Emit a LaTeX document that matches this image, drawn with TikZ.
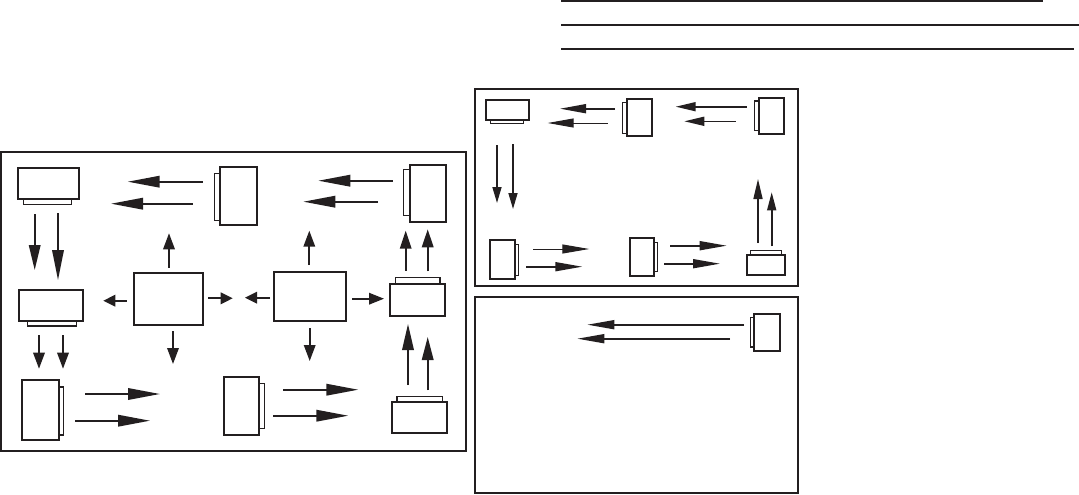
\documentclass[tikz,border=0pt]{standalone}
\usepackage{xcolor}
\definecolor{ink}{HTML}{231F20}
\usetikzlibrary{
  positioning,
  arrows.meta
}

\begin{document}
\begin{tikzpicture}[
  x=1pt,
  y=-1pt,
  node distance=0pt,
  panel/.style={
    draw=ink,
    line width=1.9pt,
    inner sep=0pt,
    outer sep=0pt
  },
  device/.style={
    draw=ink,
    line width=1.8pt,
    inner sep=0pt,
    outer sep=0pt
  },
  devtab/.style={
    draw=ink,
    line width=1.5pt,
    inner sep=0pt,
    outer sep=0pt
  },
  rulebar/.style={
    draw=ink,
    line width=1.8pt
  },
  arr/.style={
    -{Triangle[length=#1,width=11.5pt]},
    draw=ink,
    fill=ink,
    line width=1.8pt
  },
  narrowarr/.style={
    -{Triangle[length=#1,width=9pt]},
    draw=ink,
    fill=ink,
    line width=1.6pt
  },
  thinarr/.style={
    -{Triangle[length=#1,width=9pt]},
    draw=ink,
    fill=ink,
    line width=1pt
  }
]
\useasboundingbox (0,0) rectangle (1079,495);

% Rules at the top
\coordinate (ruleAs) at (561,1);
\coordinate (ruleAe) at (1043,1);
\coordinate (ruleBs) at (561,25);
\coordinate (ruleBe) at (1079,25);
\coordinate (ruleCs) at (561,48.7);
\coordinate (ruleCe) at (1074,48.7);
\draw[rulebar] (ruleAs) -- (ruleAe);
\draw[rulebar] (ruleBs) -- (ruleBe);
\draw[rulebar] (ruleCs) -- (ruleCe);

% Panels
\node[panel, minimum width=464.7pt, minimum height=298.7pt] (panelA) at (233.3,301.3) {};
\node[panel, minimum width=323.6pt, minimum height=196.7pt] (panelB) at (636.5,187.3) {};
\node[panel, minimum width=323.6pt, minimum height=196.6pt] (panelC) at (636.5,395) {};

% Panel A: devices
\node[device, minimum width=61.6pt, minimum height=31.6pt] (topleft) at (48.5,183.5) {};
\node[devtab, below=of topleft, xshift=-1pt, minimum width=47.6pt, minimum height=5pt] (topleftTab) {};
\node[device, minimum width=37.6pt, minimum height=58.6pt] (topmid) at (238.5,196) {};
\node[devtab, left=of topmid, yshift=-1.2pt, minimum width=5pt, minimum height=47pt] (topmidTab) {};
\node[device, minimum width=36.6pt, minimum height=57.3pt] (topright) at (428,193.3) {};
\node[devtab, left=of topright, yshift=1pt, minimum width=6pt, minimum height=46pt] (toprightTab) {};
\node[device, minimum width=64.6pt, minimum height=31.6pt] (midleft) at (51,305.5) {};
\node[devtab, below=of midleft, xshift=1pt, minimum width=48.6pt, minimum height=4.7pt] (midleftTab) {};
\node[device, minimum width=55pt, minimum height=32.3pt] (midright) at (417.8,299.8) {};
\node[devtab, above=of midright, minimum width=44.6pt, minimum height=6.4pt] (midrightTab) {};
\node[device, minimum width=37.6pt, minimum height=59.7pt] (botleft) at (40.5,410.2) {};
\node[devtab, right=of botleft, yshift=-0.9pt, minimum width=4pt, minimum height=48pt] (botleftTab) {};
\node[device, minimum width=35.6pt, minimum height=58.3pt] (botmid) at (241.5,405.8) {};
\node[devtab, right=of botmid, minimum width=5pt, minimum height=45pt] (botmidTab) {};
\node[device, minimum width=55pt, minimum height=31.6pt] (botright) at (419.8,417.5) {};
\node[devtab, above=of botright, minimum width=45.6pt, minimum height=5pt] (botrightTab) {};
\node[device, minimum width=69.6pt, minimum height=52.3pt] (hubL) at (168.5,298.8) {};
\node[device, minimum width=72.6pt, minimum height=49pt] (hubR) at (310,296.5) {};

% Panel A: paired arrows
\coordinate (a1s) at (202.7,181.7); \coordinate (a1e) at (127.7,181.7);
\coordinate (a2s) at (192.7,203.7); \coordinate (a2e) at (111,203.7);
\coordinate (a3s) at (392.7,180.7); \coordinate (a3e) at (318.3,180.7);
\coordinate (a4s) at (378,201.7);   \coordinate (a4e) at (303.3,201.7);
\coordinate (a5s) at (34.7,214);    \coordinate (a5e) at (34.7,270);
\coordinate (a6s) at (58,213);      \coordinate (a6e) at (58,280);
\coordinate (a7s) at (39,335);      \coordinate (a7e) at (39,368.7);
\coordinate (a8s) at (63,335);      \coordinate (a8e) at (63,368.7);
\coordinate (a9s) at (85,394);      \coordinate (a9e) at (160,394);
\coordinate (a10s) at (75,420.7);   \coordinate (a10e) at (150,420.7);
\coordinate (a11s) at (283,389.7);  \coordinate (a11e) at (358.3,389.7);
\coordinate (a12s) at (273,415.7);  \coordinate (a12e) at (348.3,415.7);
\coordinate (a13s) at (408,385);    \coordinate (a13e) at (408,324);
\coordinate (a14s) at (427.7,390);  \coordinate (a14e) at (427.7,337);
\coordinate (a15s) at (405.7,270.7); \coordinate (a15e) at (405.7,230.7);
\coordinate (a16s) at (427.7,271);  \coordinate (a16e) at (427.7,229.3);
\draw[arr=32pt] (a1s) -- (a1e);
\draw[arr=32pt] (a2s) -- (a2e);
\draw[arr=32pt] (a3s) -- (a3e);
\draw[arr=32pt] (a4s) -- (a4e);
\draw[arr=25pt] (a5s) -- (a5e);
\draw[arr=30pt] (a6s) -- (a6e);
\draw[arr=16pt] (a7s) -- (a7e);
\draw[arr=16pt] (a8s) -- (a8e);
\draw[arr=32pt] (a9s) -- (a9e);
\draw[arr=32pt] (a10s) -- (a10e);
\draw[arr=32pt] (a11s) -- (a11e);
\draw[arr=32pt] (a12s) -- (a12e);
\draw[arr=26pt] (a13s) -- (a13e);
\draw[arr=23pt] (a14s) -- (a14e);
\draw[arr=18pt] (a15s) -- (a15e);
\draw[arr=18pt] (a16s) -- (a16e);

% Panel A: arrows around the two hubs
\coordinate (h1s) at (169,267.7);   \coordinate (h1e) at (169,233.3);
\coordinate (h2s) at (126.7,300.7); \coordinate (h2e) at (103.3,300.7);
\coordinate (h3s) at (208,298.3);   \coordinate (h3e) at (232.7,298.3);
\coordinate (h4s) at (173,331);     \coordinate (h4e) at (173,364);
\coordinate (h5s) at (309.3,265);   \coordinate (h5e) at (309.3,230.7);
\coordinate (h6s) at (270,297.7);   \coordinate (h6e) at (245,297.7);
\coordinate (h7s) at (352,298.7);   \coordinate (h7e) at (384,298.7);
\coordinate (h8s) at (309.7,328);   \coordinate (h8e) at (309.7,361);
\draw[arr=16pt] (h1s) -- (h1e);
\draw[arr=12pt] (h2s) -- (h2e);
\draw[arr=12pt] (h3s) -- (h3e);
\draw[arr=16pt] (h4s) -- (h4e);
\draw[arr=16pt] (h5s) -- (h5e);
\draw[arr=12pt] (h6s) -- (h6e);
\draw[arr=15pt] (h7s) -- (h7e);
\draw[arr=16pt] (h8s) -- (h8e);

% Panel B: devices
\node[device, minimum width=43.6pt, minimum height=20.3pt] (bTopleft) at (507.5,109.8) {};
\node[devtab, below=of bTopleft, xshift=-0.5pt, minimum width=33.4pt, minimum height=3.3pt] (bTopleftTab) {};
\node[device, minimum width=25.6pt, minimum height=37.6pt] (bTopmid) at (639.5,117.5) {};
\node[devtab, left=of bTopmid, yshift=-0.5pt, minimum width=4pt, minimum height=30.6pt] (bTopmidTab) {};
\node[device, minimum width=25.6pt, minimum height=36.6pt] (bTopright) at (771.5,116) {};
\node[devtab, left=of bTopright, yshift=0.3pt, minimum width=4pt, minimum height=29.3pt] (bToprightTab) {};
\node[device, minimum width=25.6pt, minimum height=39.3pt] (bBotleft) at (502.5,259.3) {};
\node[devtab, right=of bBotleft, yshift=-0.5pt, minimum width=3.4pt, minimum height=31pt] (bBotleftTab) {};
\node[device, minimum width=24.6pt, minimum height=38.6pt] (bBotmid) at (642,257) {};
\node[devtab, right=of bBotmid, minimum width=3pt, minimum height=29.4pt] (bBotmidTab) {};
\node[device, minimum width=38.6pt, minimum height=20.3pt] (bBotright) at (766,264.8) {};
\node[devtab, above=of bBotright, minimum width=30.6pt, minimum height=4pt] (bBotrightTab) {};

% Panel B: arrows
\coordinate (b1s) at (615,108.7);   \coordinate (b1e) at (560,108.7);
\coordinate (b2s) at (607.7,123);   \coordinate (b2e) at (547.7,123);
\coordinate (b3s) at (746.7,106.7); \coordinate (b3e) at (675.7,106.7);
\coordinate (b4s) at (735.7,121.3); \coordinate (b4e) at (684.3,121.3);
\coordinate (b5s) at (497,145);     \coordinate (b5e) at (497,203);
\coordinate (b6s) at (513,144);     \coordinate (b6e) at (513,209);
\coordinate (b7s) at (533,249);     \coordinate (b7e) at (589.3,249);
\coordinate (b8s) at (526,266.7);   \coordinate (b8e) at (582.3,266.7);
\coordinate (b9s) at (670,245.7);   \coordinate (b9e) at (726.7,245.7);
\coordinate (b10s) at (664,263.7);  \coordinate (b10e) at (720,263.7);
\coordinate (b11s) at (758,243);    \coordinate (b11e) at (758,179);
\coordinate (b12s) at (771.7,246);  \coordinate (b12e) at (771.7,192.3);
\draw[narrowarr=26pt] (b1s) -- (b1e);
\draw[thinarr=26pt] (b2s) -- (b2e);
\draw[narrowarr=20pt] (b3s) -- (b3e);
\draw[narrowarr=20pt] (b4s) -- (b4e);
\draw[narrowarr=16pt] (b5s) -- (b5e);
\draw[narrowarr=16pt] (b6s) -- (b6e);
\draw[thinarr=27pt] (b7s) -- (b7e);
\draw[narrowarr=27pt] (b8s) -- (b8e);
\draw[narrowarr=27pt] (b9s) -- (b9e);
\draw[narrowarr=27pt] (b10s) -- (b10e);
\draw[narrowarr=20pt] (b11s) -- (b11e);
\draw[narrowarr=18pt] (b12s) -- (b12e);

% Panel C: device and arrows
\node[device, minimum width=26pt, minimum height=37pt] (cDev) at (767.3,332.8) {};
\node[devtab, left=of cDev, yshift=0.5pt, minimum width=3.6pt, minimum height=29.3pt] (cDevTab) {};
\coordinate (c1s) at (744,324.7);   \coordinate (c1e) at (587.3,324.7);
\coordinate (c2s) at (730,338.7);   \coordinate (c2e) at (577.3,338.7);
\draw[narrowarr=27pt] (c1s) -- (c1e);
\draw[narrowarr=27pt] (c2s) -- (c2e);

\end{tikzpicture}
\end{document}
